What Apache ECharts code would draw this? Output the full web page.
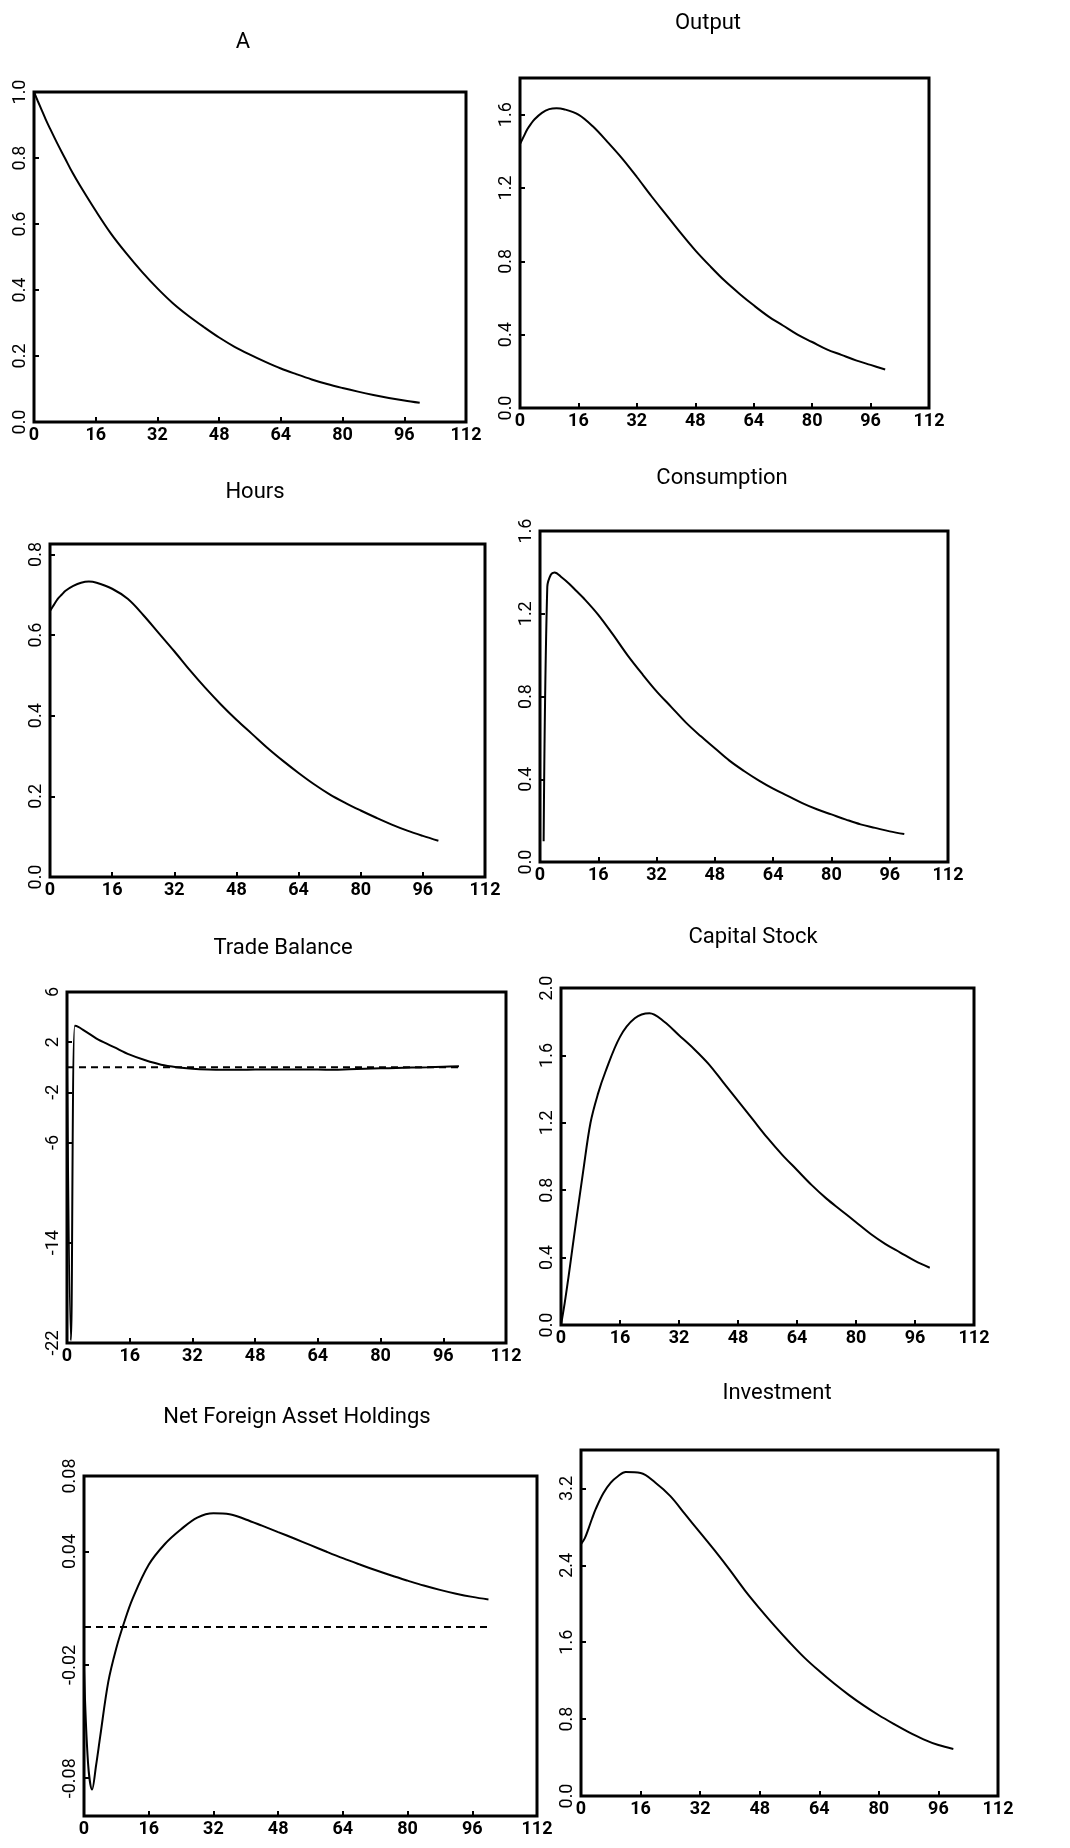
<!DOCTYPE html>
<html>
<head>
<meta charset="utf-8">
<title>Impulse responses</title>
<script src="https://cdn.jsdelivr.net/npm/echarts@6/dist/echarts.min.js"></script>
<style>
  html, body { margin: 0; padding: 0; background: #fff; }
  #chart { width: 1070px; height: 1848px; }
</style>
</head>
<body>
<div id="chart"></div>
<script>
// periods after the shock
const periods = [0, 1, 2, 3, 4, 6, 8, 10, 12, 16, 20, 24, 28, 32, 36, 40, 44, 48, 52, 56, 60, 64, 68, 72, 76, 80, 84, 88, 92, 96, 100];
const xTicks = [0, 16, 32, 48, 64, 80, 96, 112];

// responses
const techShock = [1.0, 0.972, 0.945, 0.918, 0.893, 0.845, 0.80, 0.755, 0.715, 0.64, 0.57, 0.51, 0.455, 0.405, 0.36, 0.322, 0.288, 0.256, 0.228, 0.204, 0.182, 0.162, 0.145, 0.129, 0.115, 0.103, 0.092, 0.082, 0.073, 0.065, 0.058];
const output = [1.44, 1.48, 1.52, 1.55, 1.575, 1.61, 1.63, 1.635, 1.63, 1.60, 1.535, 1.45, 1.36, 1.26, 1.155, 1.055, 0.955, 0.86, 0.775, 0.695, 0.625, 0.56, 0.50, 0.45, 0.40, 0.36, 0.32, 0.29, 0.26, 0.235, 0.21];
const hours = [0.66, 0.675, 0.69, 0.70, 0.71, 0.722, 0.73, 0.733, 0.73, 0.715, 0.69, 0.65, 0.605, 0.56, 0.513, 0.469, 0.428, 0.39, 0.355, 0.32, 0.288, 0.258, 0.23, 0.205, 0.184, 0.165, 0.147, 0.13, 0.115, 0.102, 0.09];
const consumption = [null, 0.10, 1.33, 1.39, 1.40, 1.375, 1.345, 1.31, 1.275, 1.195, 1.10, 1.00, 0.91, 0.825, 0.75, 0.675, 0.61, 0.55, 0.49, 0.44, 0.395, 0.355, 0.32, 0.285, 0.255, 0.23, 0.205, 0.182, 0.165, 0.148, 0.135];
const tradeBalance = [0, -21.8, 3.3, 3.2, 3.0, 2.6, 2.2, 1.9, 1.6, 1.0, 0.55, 0.2, 0.0, -0.12, -0.18, -0.2, -0.2, -0.19, -0.18, -0.18, -0.19, -0.19, -0.2, -0.16, -0.12, -0.09, -0.06, -0.03, 0.0, 0.04, 0.08];
const capital = [0.0, 0.13, 0.28, 0.44, 0.60, 0.91, 1.20, 1.37, 1.50, 1.71, 1.82, 1.85, 1.80, 1.72, 1.64, 1.55, 1.44, 1.33, 1.22, 1.11, 1.01, 0.92, 0.83, 0.75, 0.68, 0.61, 0.54, 0.48, 0.43, 0.38, 0.34];
const foreignAssets = [-0.022, -0.072, -0.086, -0.073, -0.058, -0.029, -0.011, 0.003, 0.015, 0.033, 0.044, 0.0518, 0.058, 0.0603, 0.0598, 0.057, 0.0537, 0.0503, 0.0469, 0.0434, 0.0399, 0.0365, 0.0333, 0.0302, 0.0273, 0.0246, 0.022, 0.0197, 0.0177, 0.016, 0.0146];
const investment = [2.62, 2.68, 2.78, 2.89, 2.99, 3.15, 3.26, 3.33, 3.37, 3.36, 3.26, 3.12, 2.93, 2.74, 2.55, 2.35, 2.14, 1.95, 1.77, 1.60, 1.44, 1.30, 1.17, 1.05, 0.94, 0.84, 0.75, 0.665, 0.59, 0.53, 0.49];

// dashed steady-state line
const steadyX = [0, 100];
const steadyY = [0, 0];

// y tick labels per panel
const aTicks = [0, 0.2, 0.4, 0.6, 0.8, 1.0];
const outputTicks = [0, 0.4, 0.8, 1.2, 1.6];
const hoursTicks = [0, 0.2, 0.4, 0.6, 0.8];
const consTicks = [0, 0.4, 0.8, 1.2, 1.6];
const tradeTicks = [-22, -14, -6, -2, 2, 6];
const capitalTicks = [0, 0.4, 0.8, 1.2, 1.6, 2.0];
const nfaTicks = [-0.08, -0.02, 0.04, 0.08];
const invTicks = [0, 0.8, 1.6, 2.4, 3.2];

const panels = [
    { title: 'A', values: techShock, min: 0, max: 1.0, ticks: aTicks, digits: 1 },
    { title: 'Output', values: output, min: 0, max: 1.8, ticks: outputTicks, digits: 1 },
    { title: 'Hours', values: hours, min: 0, max: 0.826, ticks: hoursTicks, digits: 1 },
    { title: 'Consumption', values: consumption, min: 0, max: 1.6, ticks: consTicks, digits: 1 },
    { title: 'Trade Balance', values: tradeBalance, min: -22, max: 6, ticks: tradeTicks, digits: 0, steady: true },
    { title: 'Capital Stock', values: capital, min: 0, max: 2.0, ticks: capitalTicks, digits: 1 },
    { title: 'Net Foreign Asset Holdings', values: foreignAssets, min: -0.1, max: 0.08, ticks: nfaTicks, digits: 2, steady: true },
    { title: 'Investment', values: investment, min: 0, max: 3.6, ticks: invTicks, digits: 1 }
];

// plot boxes [left, top, width, height] and title centres
const boxes = [
    [34, 92, 432, 330], [520, 78, 409, 330],
    [50, 544, 435, 333], [540, 531, 408, 331],
    [67, 992, 439, 351], [561, 988, 413, 337],
    [84, 1476, 453, 340], [581, 1450, 417, 346]
];
const titlePos = [
    [243, 42], [708, 23],
    [255, 492], [722, 478],
    [283, 948], [753, 937],
    [297, 1417], [777, 1393]
];

const FONT = "Roboto, 'Liberation Sans', sans-serif";

const chart = echarts.init(document.getElementById('chart'), null, { renderer: 'canvas' });

const grids = [], xAxes = [], yAxes = [], series = [], texts = [];
panels.forEach((p, i) => {
    const b = boxes[i];
    grids.push({
        left: b[0], top: b[1], width: b[2], height: b[3],
        show: true, borderColor: '#000', borderWidth: 3, backgroundColor: 'transparent'
    });
    xAxes.push({
        type: 'value', gridIndex: i, min: 0, max: 112, position: 'bottom',
        axisLine: { show: false, onZero: false },
        splitLine: { show: false },
        axisTick: { show: true, inside: true, length: 5, customValues: xTicks, lineStyle: { color: '#000', width: 2 } },
        axisLabel: {
            customValues: xTicks, margin: 4, color: '#000',
            fontFamily: FONT, fontSize: 18, fontWeight: 'bold'
        }
    });
    yAxes.push({
        type: 'value', gridIndex: i, min: p.min, max: p.max, position: 'left',
        axisLine: { show: false, onZero: false },
        splitLine: { show: false },
        axisTick: { show: true, inside: true, length: 5, customValues: p.ticks, lineStyle: { color: '#000', width: 2 } },
        axisLabel: {
            customValues: p.ticks, rotate: 90, margin: 5, color: '#000',
            fontFamily: FONT, fontSize: 18,
            formatter: v => Number(v).toFixed(p.digits)
        }
    });
    series.push({
        type: 'line', xAxisIndex: i, yAxisIndex: i,
        data: periods.map((t, k) => [t, p.values[k]]).filter(d => d[1] !== null),
        showSymbol: false, smooth: 0.35,
        lineStyle: { color: '#000', width: 2 },
        silent: true, animation: false
    });
    if (p.steady) {
        series.push({
            type: 'line', xAxisIndex: i, yAxisIndex: i,
            data: steadyX.map((t, k) => [t, steadyY[k]]),
            showSymbol: false,
            lineStyle: { color: '#000', width: 2, type: [7, 5] },
            silent: true, animation: false
        });
    }
    texts.push({
        type: 'text', x: titlePos[i][0], y: titlePos[i][1],
        style: {
            text: p.title, fill: '#000',
            font: '22px ' + FONT,
            align: 'center', verticalAlign: 'middle',
            textAlign: 'center', textVerticalAlign: 'middle'
        }
    });
});

chart.setOption({
    backgroundColor: '#fff',
    animation: false,
    grid: grids,
    xAxis: xAxes,
    yAxis: yAxes,
    series: series,
    graphic: texts
});
</script>
</body>
</html>
